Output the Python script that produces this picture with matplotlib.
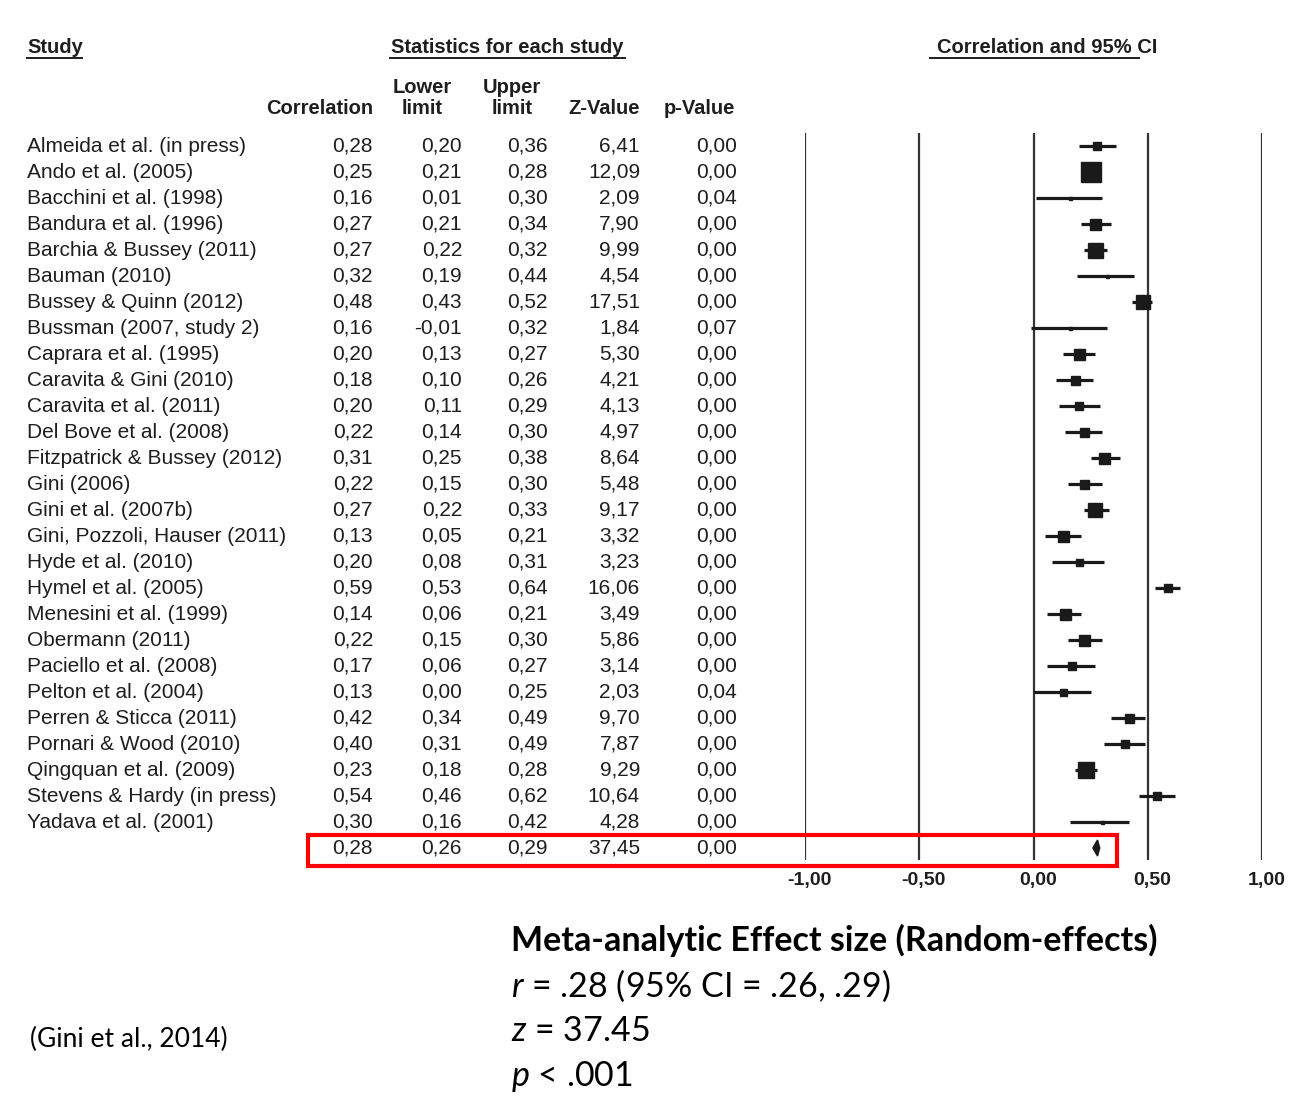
import matplotlib
matplotlib.use("Agg")
import matplotlib.pyplot as plt
import matplotlib.transforms as mtransforms
from matplotlib.patches import Rectangle, Polygon
from matplotlib.lines import Line2D

# ---- data (Gini et al., 2014) ----
studies = [
    "Almeida et al. (in press)", "Ando et al. (2005)", "Bacchini et al. (1998)",
    "Bandura et al. (1996)", "Barchia & Bussey (2011)", "Bauman (2010)",
    "Bussey & Quinn (2012)", "Bussman (2007, study 2)", "Caprara et al. (1995)",
    "Caravita & Gini (2010)", "Caravita et al. (2011)", "Del Bove et al. (2008)",
    "Fitzpatrick & Bussey (2012)", "Gini (2006)", "Gini et al. (2007b)",
    "Gini, Pozzoli, Hauser (2011)", "Hyde et al. (2010)", "Hymel et al. (2005)",
    "Menesini et al. (1999)", "Obermann (2011)", "Paciello et al. (2008)",
    "Pelton et al. (2004)", "Perren & Sticca (2011)", "Pornari & Wood (2010)",
    "Qingquan et al. (2009)", "Stevens & Hardy (in press)", "Yadava et al. (2001)",
]
corr = [0.28, 0.25, 0.16, 0.27, 0.27, 0.32, 0.48, 0.16, 0.20, 0.18, 0.20, 0.22, 0.31, 0.22,
        0.27, 0.13, 0.20, 0.59, 0.14, 0.22, 0.17, 0.13, 0.42, 0.40, 0.23, 0.54, 0.30]
lower = [0.20, 0.21, 0.01, 0.21, 0.22, 0.19, 0.43, -0.01, 0.13, 0.10, 0.11, 0.14, 0.25, 0.15,
         0.22, 0.05, 0.08, 0.53, 0.06, 0.15, 0.06, 0.00, 0.34, 0.31, 0.18, 0.46, 0.16]
upper = [0.36, 0.28, 0.30, 0.34, 0.32, 0.44, 0.52, 0.32, 0.27, 0.26, 0.29, 0.30, 0.38, 0.30,
         0.33, 0.21, 0.31, 0.64, 0.21, 0.30, 0.27, 0.25, 0.49, 0.49, 0.28, 0.62, 0.42]
z_vals = [6.41, 12.09, 2.09, 7.90, 9.99, 4.54, 17.51, 1.84, 5.30, 4.21, 4.13, 4.97, 8.64, 5.48,
          9.17, 3.32, 3.23, 16.06, 3.49, 5.86, 3.14, 2.03, 9.70, 7.87, 9.29, 10.64, 4.28]
p_vals = [0.00, 0.00, 0.04, 0.00, 0.00, 0.00, 0.00, 0.07, 0.00, 0.00, 0.00, 0.00, 0.00, 0.00,
          0.00, 0.00, 0.00, 0.00, 0.00, 0.00, 0.00, 0.04, 0.00, 0.00, 0.00, 0.00, 0.00]
# relative study weight, shown as the side of the square (px)
box_px = [8, 20, 3, 11, 15, 3, 14, 3, 11, 9, 8, 9, 11, 9, 14, 11, 7, 8, 11, 11, 8, 7, 9, 8, 16, 8, 3]

pooled_r, pooled_lo, pooled_hi, pooled_z, pooled_p = 0.28, 0.26, 0.29, 37.45, 0.00
x_ticks = [-1.0, -0.5, 0.0, 0.5, 1.0]

W, H = 1305, 1120
TXT = "#1e1e1e"
TABLE_FONT = "Liberation Sans"


def fx(px):
    return px / W


def fy(py):
    return 1 - py / H


def comma(v, nd=2):
    return f"{v:.{nd}f}".replace(".", ",")


plt.rcParams["mathtext.fontset"] = "custom"
plt.rcParams["mathtext.it"] = "Lato:italic"
plt.rcParams["mathtext.rm"] = "Lato"

fig = plt.figure(figsize=(W / 100, H / 100), dpi=100)
fig.patch.set_facecolor("white")

# forest axes: rows 0..26 studies, row 27 = pooled estimate
ax = fig.add_axes([fx(805), fy(860), fx(1262) - fx(805), fy(133) - fy(860)])
n = len(studies)
row_top, row_bot = -0.5, (860 - 146) / 26
ax.set_xlim(-1, 1)
ax.set_ylim(row_bot, row_top)
ax.axis("off")

ax.vlines(x_ticks, row_bot, row_top, color="#333333", lw=1.6)

for i in range(n):
    ax.plot([lower[i], upper[i]], [i, i], color="#1a1a1a", lw=2.3, solid_capstyle="butt")
    ax.plot(corr[i], i, marker="s", ms=box_px[i] * 0.72, color="#1a1a1a", mec="#1a1a1a")

dh = 8 / 26
ax.add_patch(Polygon([(pooled_lo, n), (pooled_r, n - dh), (pooled_hi, n), (pooled_r, n + dh)],
                     closed=True, color="#1a1a1a"))

# tick labels
tick_tr = mtransforms.blended_transform_factory(ax.transData, fig.transFigure)
for t in x_ticks:
    ax.text(t + 0.02, fy(880), comma(t), transform=tick_tr, ha="center", va="center",
            fontsize=14, fontweight="bold", family=TABLE_FONT, color=TXT)

# table columns
row_tr = mtransforms.blended_transform_factory(fig.transFigure, ax.transData)
col_right = [373, 462, 548, 640, 737]
BODY = 15
for i in range(n):
    ax.text(fx(27), i, studies[i], transform=row_tr, ha="left", va="center",
            fontsize=BODY, family=TABLE_FONT, color=TXT)
    vals = [comma(corr[i]), comma(lower[i]), comma(upper[i]), comma(z_vals[i]), comma(p_vals[i])]
    for xr, s in zip(col_right, vals):
        ax.text(fx(xr), i, s, transform=row_tr, ha="right", va="center",
                fontsize=BODY, family=TABLE_FONT, color=TXT)

pooled_vals = [comma(pooled_r), comma(pooled_lo), comma(pooled_hi), comma(pooled_z), comma(pooled_p)]
for xr, s in zip(col_right, pooled_vals):
    ax.text(fx(xr), n, s, transform=row_tr, ha="right", va="center",
            fontsize=BODY, family=TABLE_FONT, color=TXT)

# headers
hdr = dict(fontsize=14.5, fontweight="bold", family=TABLE_FONT, color=TXT, va="baseline")
fig.text(fx(27), fy(53), "Study", ha="left", **hdr)
fig.text(fx(507), fy(53), "Statistics for each study", ha="center", **hdr)
fig.text(fx(1047), fy(53), "Correlation and 95% CI", ha="center", **hdr)
for x0, x1 in [(27, 82), (390, 625), (930, 1139)]:
    fig.add_artist(Line2D([fx(x0), fx(x1)], [fy(58), fy(58)], color=TXT, lw=1.4,
                          transform=fig.transFigure))

fig.text(fx(422), fy(93), "Lower", ha="center", **hdr)
fig.text(fx(422), fy(114), "limit", ha="center", **hdr)
fig.text(fx(512), fy(93), "Upper", ha="center", **hdr)
fig.text(fx(512), fy(114), "limit", ha="center", **hdr)
fig.text(fx(373), fy(114), "Correlation", ha="right", **hdr)
fig.text(fx(640), fy(114), "Z-Value", ha="right", **hdr)
fig.text(fx(735), fy(114), "p-Value", ha="right", **hdr)

# red highlight box around the pooled row
fig.add_artist(Rectangle((fx(308), fy(866)), fx(1117) - fx(308), fy(835) - fy(866),
                         transform=fig.transFigure, fill=False, ec="#ff0000", lw=3))

# summary text
SUM = 24.5
fig.text(fx(511), fy(940), "Meta-analytic Effect size (Random-effects)", ha="left", va="center",
         fontsize=SUM, fontweight="bold", family="Lato", color="black")
fig.text(fx(511), fy(986), "$r$ = .28 (95% CI = .26, .29)", ha="left", va="center",
         fontsize=SUM, family="Lato", color="black")
fig.text(fx(511), fy(1031), "$z$ = 37.45", ha="left", va="center",
         fontsize=SUM, family="Lato", color="black")
fig.text(fx(511), fy(1076), "$p$ < .001", ha="left", va="center",
         fontsize=SUM, family="Lato", color="black")
fig.text(fx(30), fy(1039), "(Gini et al., 2014)", ha="left", va="center",
         fontsize=19, family="Lato", color="black")

fig.savefig("out.png", dpi=100, facecolor="white")
